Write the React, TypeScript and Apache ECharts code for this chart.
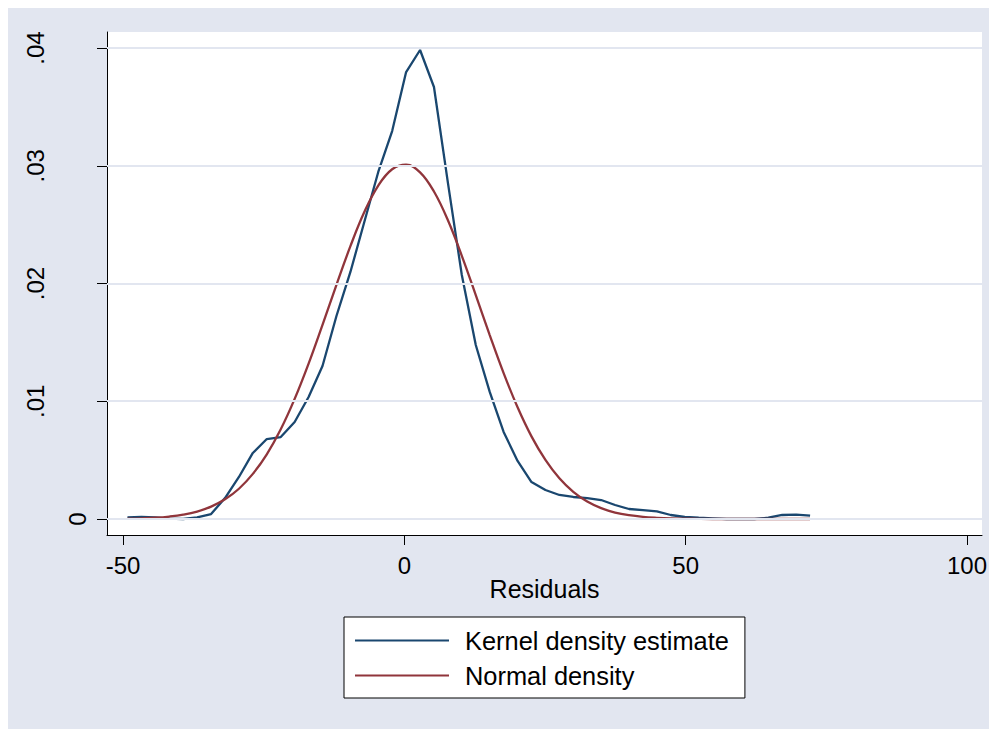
import React, { useEffect, useRef } from "react";
import * as echarts from "echarts";

const residuals = [
  -49.2, -46.72, -44.25, -41.77, -39.3, -36.82, -34.34, -31.87, -29.39, -26.92,
  -24.44, -21.96, -19.49, -17.01, -14.54, -12.06, -9.58, -7.11, -4.63, -2.16,
  0.32, 2.8, 5.27, 7.75, 10.22, 12.7, 15.18, 17.65, 20.13, 22.6,
  25.08, 27.56, 30.03, 32.51, 34.98, 37.46, 39.94, 42.41, 44.89, 47.36,
  49.84, 52.32, 54.79, 57.27, 59.74, 62.22, 64.7, 67.17, 69.65, 72.12,
];

const kernelDensity = [
  0.00013, 0.00017, 0.00013, 0.00004, 0.0, 0.00013, 0.00042, 0.00178, 0.00357, 0.00561,
  0.00679, 0.00696, 0.00824, 0.01036, 0.01299, 0.01724, 0.02098, 0.02522, 0.02947, 0.03295,
  0.03796, 0.03983, 0.03669, 0.02854, 0.02072, 0.01478, 0.01079, 0.00739, 0.00493, 0.00314,
  0.00246, 0.00204, 0.00187, 0.00178, 0.00161, 0.00119, 0.00085, 0.00076, 0.00064, 0.00034,
  0.00017, 0.00011, 0.00006, 0.0, 0.0, 0.0, 0.00011, 0.00034, 0.00037, 0.00028,
];

const normalDensity = [
  0.00003, 0.00006, 0.00011, 0.00021, 0.00037, 0.00063, 0.00105, 0.00167, 0.00257, 0.00383,
  0.00549, 0.00762, 0.0102, 0.0132, 0.01649, 0.01989, 0.02317, 0.02607, 0.02832, 0.0297,
  0.03009, 0.02944, 0.02781, 0.02537, 0.02235, 0.01901, 0.01562, 0.01239, 0.00949, 0.00702,
  0.00502, 0.00346, 0.00231, 0.00148, 0.00092, 0.00055, 0.00032, 0.00018, 0.0001, 0.00005,
  0.00003, 0.00001, 0.0, 0.0, 0.0, 0.0, 0.0, 0.0, 0.0, 0.0,
];

const xTicks = [-50, 0, 50, 100];
const yTicks = [0, 0.01, 0.02, 0.03, 0.04];
const seriesNames = ["Kernel density estimate", "Normal density"];
const xTitle = "Residuals";

const BG = "#e2e6f0";
const GRIDLINE = "#e2e6f0";
const NAVY = "#1a476f";
const MAROON = "#90353b";
const FONT = "'Liberation Sans', Arial, sans-serif";

const fmtY = (v: number) => (v === 0 ? "0" : String(Number(v.toFixed(2))).replace(/^0\./, "."));

export default function App() {
  const ref = useRef<HTMLDivElement>(null);

  useEffect(() => {
    document.documentElement.style.overflow = "hidden";
    document.body.style.overflow = "hidden";
    if (!ref.current) return;
    const chart = echarts.init(ref.current, undefined, { renderer: "svg" });
    const option: any = {
      animation: false,
      backgroundColor: BG,
      textStyle: { fontFamily: FONT },
      grid: {
        left: 99,
        right: 15,
        top: 24,
        bottom: 194,
        show: true,
        backgroundColor: "#ffffff",
        borderWidth: 0,
        containLabel: false,
      },
      xAxis: {
        type: "value",
        min: -52.84,
        max: 102.67,
        name: xTitle,
        nameLocation: "middle",
        nameGap: 41,
        nameMoveOverlap: false,
        nameTextStyle: { fontSize: 25, color: "#000", fontFamily: FONT },
        axisLine: { show: true, onZero: false, lineStyle: { color: "#000", width: 1 } },
        axisTick: { show: true, customValues: xTicks, length: 10, lineStyle: { color: "#000", width: 1 } },
        axisLabel: {
          customValues: xTicks,
          margin: 18,
          fontSize: 24,
          color: "#000",
          fontFamily: FONT,
          formatter: (v: number) => String(v),
        },
        splitLine: { show: false },
      },
      yAxis: [
        {
          type: "value",
          min: -0.001359,
          max: 0.041359,
          axisLine: { show: true, onZero: false, lineStyle: { color: "#000", width: 1 } },
          axisTick: { show: true, customValues: yTicks, length: 10, lineStyle: { color: "#000", width: 1 } },
          axisLabel: {
            customValues: yTicks.filter((v) => v !== 0),
            rotate: 90,
            margin: 60,
            fontSize: 24,
            color: "#000",
            fontFamily: FONT,
            formatter: fmtY,
          },
          splitLine: { show: false },
        },
        {
          type: "value",
          position: "left",
          min: -0.001359,
          max: 0.041359,
          axisLine: { show: false },
          axisTick: { show: false },
          axisLabel: {
            customValues: yTicks.filter((v) => v === 0),
            rotate: 90,
            margin: 18,
            fontSize: 24,
            color: "#000",
            fontFamily: FONT,
            formatter: fmtY,
          },
          splitLine: { show: false },
        },
      ],
      legend: {
        show: true,
        orient: "vertical",
        left: 336,
        top: 609,
        padding: [11, 16, 10, 11],
        itemGap: 10,
        itemWidth: 94,
        itemHeight: 2,
        icon: "rect",
        backgroundColor: "#ffffff",
        borderColor: "#000",
        borderWidth: 1,
        borderRadius: 0,
        selectedMode: false,
        data: seriesNames,
        textStyle: {
          fontSize: 25.4,
          lineHeight: 24,
          color: "#000",
          fontFamily: FONT,
          padding: [0, 0, 0, 11],
        },
      },
      series: [
        {
          type: "line",
          name: "gridlines",
          data: [],
          silent: true,
          z: 1,
          markLine: {
            silent: true,
            symbol: "none",
            label: { show: false },
            lineStyle: { color: GRIDLINE, width: 2, type: "solid" },
            emphasis: { disabled: true },
            data: yTicks.map((v) => ({ yAxis: v })),
          },
        },
        {
          type: "line",
          name: seriesNames[0],
          data: residuals.map((x, i) => [x, kernelDensity[i]]),
          showSymbol: false,
          symbol: "none",
          z: 3,
          color: NAVY,
          lineStyle: { color: NAVY, width: 2.3 },
        },
        {
          type: "line",
          name: seriesNames[1],
          data: residuals.map((x, i) => [x, normalDensity[i]]),
          showSymbol: false,
          symbol: "none",
          smooth: 0.4,
          z: 3,
          color: MAROON,
          lineStyle: { color: MAROON, width: 2.3 },
        },
      ],
    };
    chart.setOption(option);
    return () => chart.dispose();
  }, []);

  return <div ref={ref} style={{ width: 989, height: 721 }} />;
}
